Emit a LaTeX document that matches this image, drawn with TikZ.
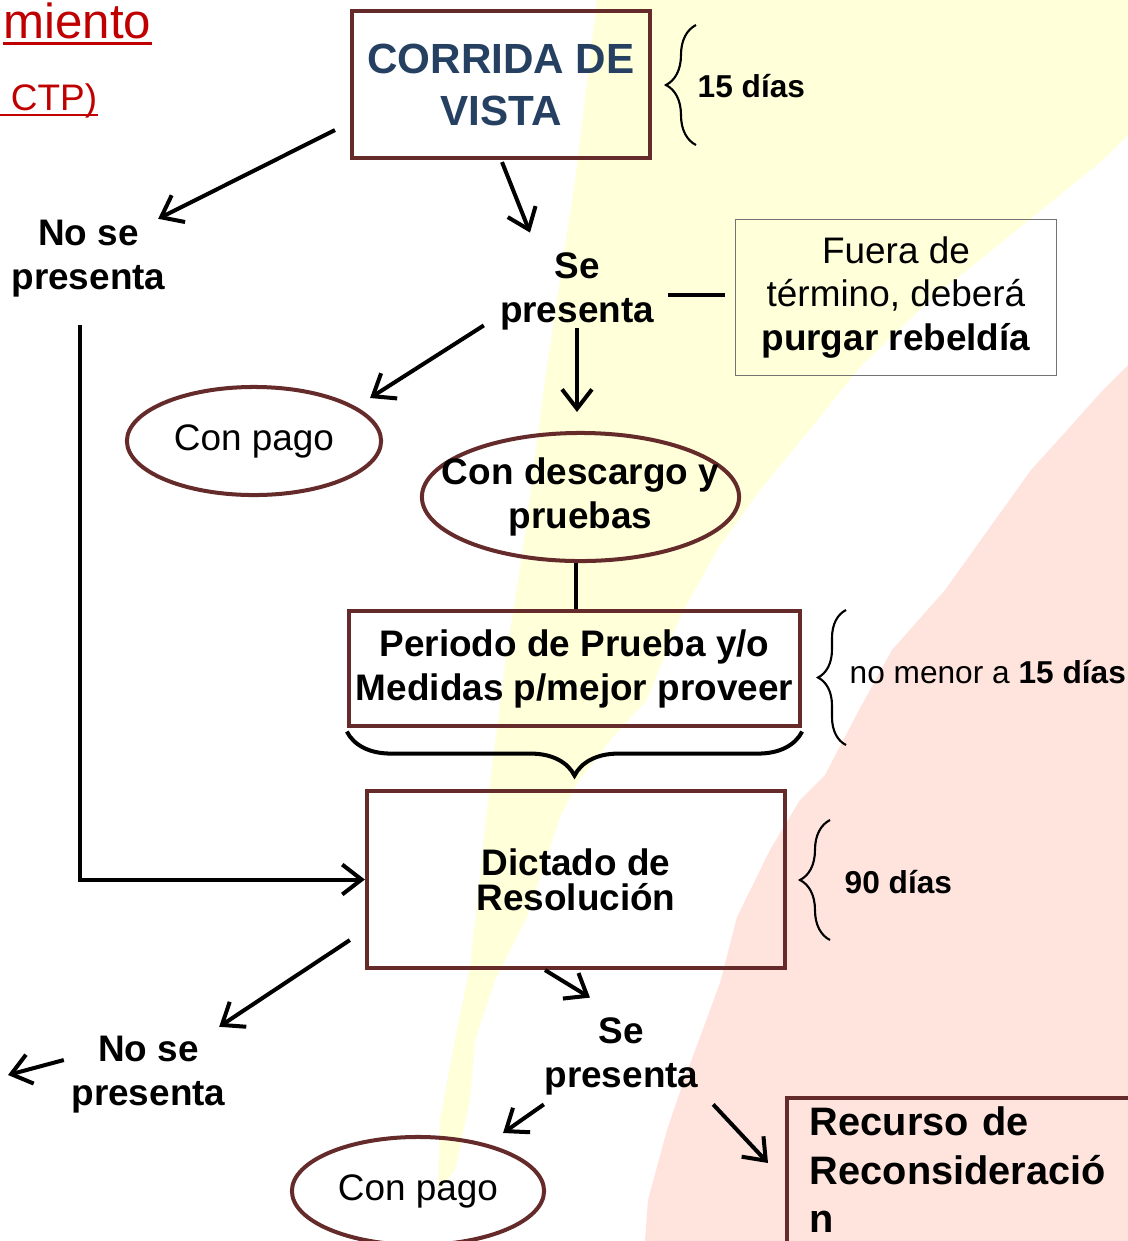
\documentclass[tikz,border=0pt]{standalone}
\usepackage{fontspec}
\setmainfont{Liberation Sans}
\usetikzlibrary{shapes.geometric,arrows.meta,decorations.pathreplacing}
\definecolor{boxbrown}{HTML}{652A2A}
\definecolor{navy}{HTML}{254061}
\definecolor{darkred}{HTML}{C00000}
\definecolor{bgyellow}{HTML}{FFFFDA}
\definecolor{bgpink}{HTML}{FFE4DE}
\newcommand{\txtmain}{\fontsize{10.5}{12.5}\selectfont}
\newcommand{\txtsmall}{\fontsize{9}{11}\selectfont}
\newcommand{\txttitle}{\fontsize{12}{14.8}\selectfont}
\newcommand{\txtrec}{\fontsize{11.3}{13.7}\selectfont}

\begin{document}
\begin{tikzpicture}[x=0.01cm,y=-0.01cm]
		\tikzstyle{every node}=[font=\txtmain\bfseries,inner sep=0pt]
		\tikzstyle{every edge}=[draw,line width=1.14pt]
		\tikzstyle{box}=[rectangle,draw=boxbrown,line width=1.14pt]
		\tikzstyle{oval}=[ellipse,draw=boxbrown,line width=1.14pt]
		\tikzstyle{arr}=[line width=1.14pt,-{Straight Barb[length=5.5pt,width=8.5pt]}]
		\tikzstyle{brc}=[decorate,line width=0.6pt]

		% background
		\useasboundingbox (0,0) rectangle (1128,1241);
		\fill[white] (0,0) rectangle (1128,1241);
		\fill[bgyellow] (597,0) -- (576,174) -- (545,380) -- (523,550) -- (507,650) -- (490,783) -- (470,967) -- (455,1040) -- (440,1120) -- (438,1190)
			-- (455,1170) -- (470,1100) -- (475,1040) -- (495,980) -- (527,917) -- (560,817) -- (577,783) -- (613,737) -- (647,700) -- (680,617) -- (717,550)
			-- (760,490) -- (807,433) -- (860,367) -- (930,300) -- (1013,233) -- (1103,160) -- (1128,135) -- (1128,0) -- cycle;
		\fill[bgpink] (1128,365) -- (1102,391) -- (1070,427) -- (1031,470) -- (945,590) -- (892,650) -- (859,710) -- (825,775) -- (800,800) -- (770,850)
			-- (737,917) -- (720,983) -- (683,1083) -- (667,1130) -- (648,1200) -- (645,1241) -- (1128,1241) -- cycle;

		\node (mient) at (152,38) [anchor=base east,font=\fontsize{14}{16}\selectfont,text=darkred] {miento};
		\draw[darkred,line width=0.85pt] ([yshift=-1.7pt]mient.base west) -- ([yshift=-1.7pt]mient.base east);
		\node (ctp) at (0,110) [anchor=base west,font=\fontsize{10.5}{12}\selectfont,text=darkred] {~CTP)};
		\draw[darkred,line width=0.7pt] ([yshift=-1.4pt]ctp.base west) -- ([yshift=-1.4pt]ctp.base east);

		\node (corrida) at (501,84.5) [box,minimum width=2.98cm,minimum height=1.47cm,align=center,font=\txttitle\bfseries,text=navy] {CORRIDA DE\\VISTA};
		\node (d15) at (697,97) [anchor=base west,font=\txtsmall\bfseries] {15 días};

		\node (nose1) at (88.5,259) [align=center] {No se\\presenta};
		\node (sepres1) at (577,291) [align=center] {Se\\presenta};
		\node (fuera) at (896,297.5) [draw=black!55,line width=0.3pt,minimum width=3.2cm,minimum height=1.55cm,align=center,font=\txtmain] {Fuera de\\término, deberá\\\textbf{purgar rebeldía}};

		\node (conpago1) at (254,441) [oval,minimum width=2.54cm,minimum height=1.08cm,font=\txtmain] {Con pago};
		\node (descargo) at (580.5,497) [oval,inner xsep=-8.5pt,minimum width=3.17cm,minimum height=1.28cm,align=center] {Con descargo y\\pruebas};

		\node (periodo) at (574.5,668.5) [box,minimum width=4.51cm,minimum height=1.15cm,align=center] {Periodo de Prueba y/o\\Medidas p/mejor proveer};
		\node (nomenor) at (849,683) [anchor=base west,font=\txtsmall] {no menor a \textbf{15 días}};

		\node (dictado) at (576,879.5) [box,minimum width=4.18cm,minimum height=1.77cm,align=center,font=\fontsize{10.5}{10}\selectfont\bfseries] {Dictado de\\Resolución};
		\node (d90) at (844,893) [anchor=base west,font=\txtsmall\bfseries] {90 días};

		\node (nose2) at (148.5,1075) [align=center] {No se\\presenta};
		\node (sepres2) at (621.5,1056) [align=center] {Se\\presenta};
		\node (conpago2) at (418,1191) [oval,minimum width=2.52cm,minimum height=1.08cm,font=\txtmain] {Con pago};
		\node (recurso) at (785,1096) [box,anchor=north west,align=left,text width=3.4cm,inner xsep=6.5pt,inner ysep=2.6pt,text depth=1.5cm,font=\txtrec\bfseries] {Recurso de\\Reconsideració\\n};
		\coordinate (offleft) at (8,1075);

		% braces
		\draw[brc,decoration={brace,amplitude=0.3cm}] (696,145) -- (696,25);
		\draw[brc,decoration={brace,amplitude=0.28cm}] (846,745) -- (846,610);
		\draw[brc,decoration={brace,amplitude=0.3cm}] (830,940) -- (830,820);
		\draw[decorate,line width=1.14pt,decoration={brace,mirror,amplitude=0.44cm}] ([yshift=-1pt]periodo.south west) -- ([yshift=-1pt]periodo.south east);

		% connectors
		\path [arr] ([shift={(-15,-30)}]corrida.south west) edge ([shift={(-8,-1)}]nose1.north east);
		\path [arr] ([shift={(1,2)}]corrida.south) edge ([shift={(-47,-19)}]sepres1.north);
		\path ([shift={(13.5,4)}]sepres1.east) edge ([shift={(-10,-2.5)}]fuera.west);
		\path [arr] ([shift={(-15.5,-5)}]sepres1.south west) edge ([shift={(24.8,-3.4)}]conpago1.north east);
		\path [arr] ([shift={(0,-2)}]sepres1.south) edge ([shift={(-3.5,-19)}]descargo.north);
		\path ([shift={(-4.5,0)}]descargo.south) edge ([shift={(1.5,0)}]periodo.north);
		\draw [arr] ([shift={(-8.5,27)}]nose1.south) |- (dictado.west);

		\path [arr] ([shift={(-15,-30)}]dictado.south west) edge ([shift={(-7,-9)}]nose2.north east);
		\path [arr] ([shift={(-7,-15)}]nose2.west) edge (offleft);
		\path [arr] ([shift={(-31,0)}]dictado.south) edge ([shift={(-31.5,-19)}]sepres2.north);
		\path [arr] ([shift={(0,9)}]sepres2.south west) edge ([shift={(-5.5,-18.4)}]conpago2.north east);
		\path [arr] ([shift={(14,9)}]sepres2.south east) edge ([shift={(-17,67)}]recurso.north west);
	\end{tikzpicture}
\end{document}
